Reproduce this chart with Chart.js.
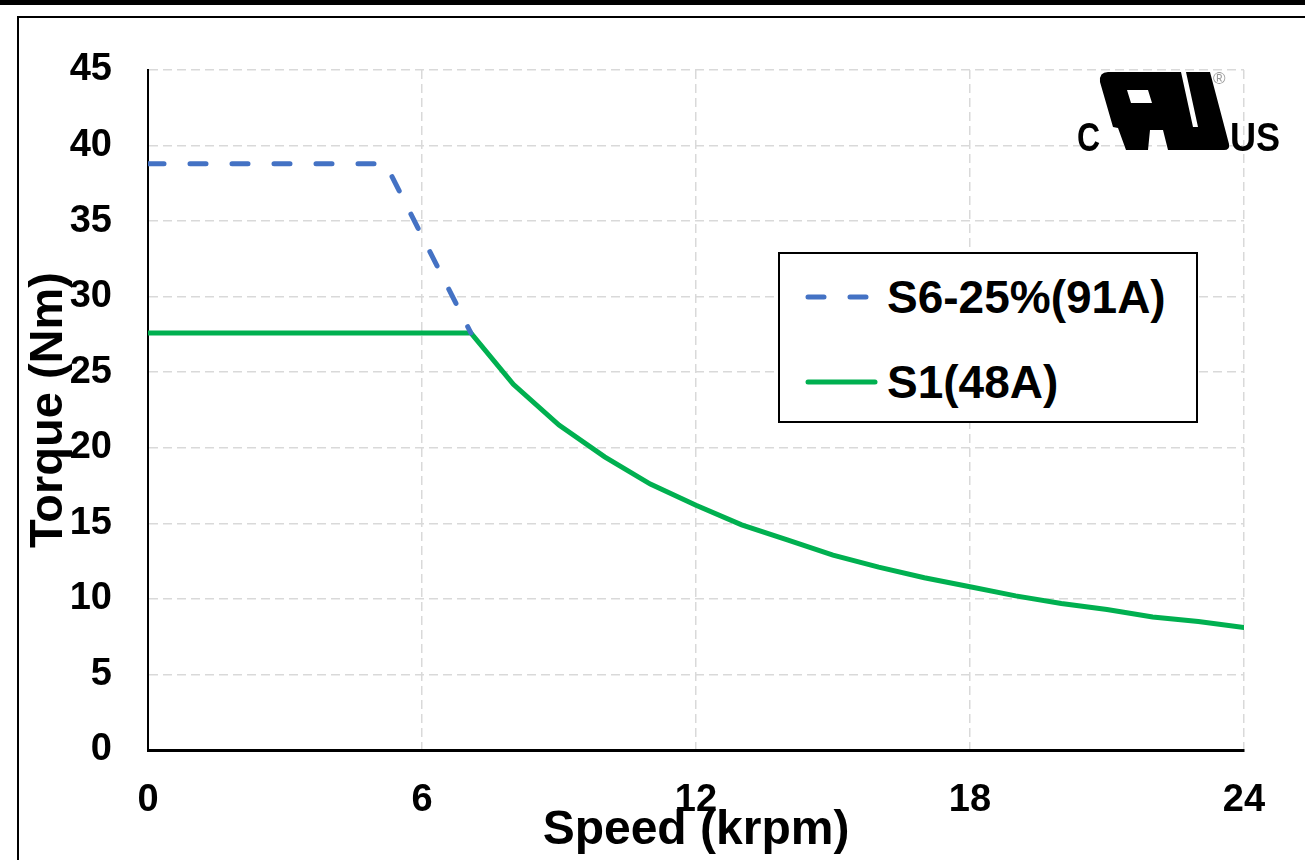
<!DOCTYPE html>
<html>
<head>
<meta charset="utf-8">
<title>Torque vs Speed</title>
<script src="https://cdn.jsdelivr.net/npm/chart.js@4.4.1/dist/chart.umd.min.js"></script>
<style>
    html, body { margin: 0; padding: 0; background: #fff; overflow: hidden; }
    #wrap { position: relative; width: 1305px; height: 860px; }
    #topBar { position: absolute; left: 0; top: 0; width: 1305px; height: 5px; background: #000; }
    #frame { position: absolute; left: 17px; top: 16px; width: 1300px; height: 860px; border: 2px solid #000; }
    #myChart { position: absolute; left: 0; top: 0; }
    #legend {
        position: absolute; left: 778px; top: 252px; width: 416px; height: 167px;
        border: 2px solid #000; background: #fff;
        font-family: Arial, "Liberation Sans", sans-serif; font-weight: bold; font-size: 46px; color: #000;
    }
    .legend-row { position: absolute; left: 0; height: 60px; display: flex; align-items: center; }
    .legend-row svg { margin-left: 25px; margin-right: 8px; }
    #ulMark { position: absolute; left: 1075px; top: 68px; width: 215px; height: 90px; }
    .ul-text {
        position: absolute; font-family: Arial, "Liberation Sans", sans-serif; font-weight: bold;
        font-size: 41px; color: #000; line-height: 1; transform-origin: left center;
    }
</style>
</head>
<body>
<div id="wrap">
    <div id="topBar"></div>
    <div id="frame"></div>
    <canvas id="myChart" width="1305" height="860"></canvas>
    <div id="legend"></div>
    <div id="ulMark">
        <span class="ul-text" style="left:2px; top:49px; transform:scaleX(0.78);">C</span>
        <svg style="position:absolute; left:23px; top:2px;" width="134" height="82" viewBox="1098 70 134 82">
            <path fill="#000" fill-rule="evenodd" d="M1100 82 Q1099 72 1108 72 L1181 72 L1193 127 L1198 127 L1186 72 L1210 72 L1229 144 Q1230 150 1224 150 L1168 150 L1163 130 L1150 130 L1148 150 L1126 150 L1118 128 L1113 127 Z M1127 90 L1148 90 L1152 103 L1131 103 Z"/>
        </svg>
        <span style="position:absolute; left:138px; top:1px; font-family:Arial, sans-serif; font-size:17px; color:#999;">®</span>
        <span class="ul-text" style="left:155px; top:49px; transform:scaleX(0.88);">US</span>
    </div>
</div>
<script>
// Dados
const speedS6 = [0, 5.2, 7.07];
const torqueS6 = [38.8, 38.8, 27.6];

const speedS1 = [0, 7.07, 8, 9, 10, 11, 12, 13, 14, 15, 16, 17, 18, 19, 20, 21, 22, 23, 24];
const torqueS1 = [27.6, 27.6, 24.2, 21.5, 19.4, 17.6, 16.2, 14.9, 13.9, 12.9, 12.1, 11.4, 10.8, 10.2, 9.7, 9.3, 8.8, 8.5, 8.1];

const seriesLabels = ['S6-25%(91A)', 'S1(48A)'];
const seriesColors = ['#4472C4', '#00B050'];

const xTicks = [0, 6, 12, 18, 24];
const yTicks = [0, 5, 10, 15, 20, 25, 30, 35, 40, 45];

const FONT = 'Arial, "Liberation Sans", sans-serif';

// Junta velocidade e torque em pontos {x, y}
function toPoints(xs, ys) {
    return xs.map((x, i) => ({ x, y: ys[i] }));
}

function getChartData() {
    return {
        datasets: [{
            label: seriesLabels[0],
            data: toPoints(speedS6, torqueS6),
            borderColor: seriesColors[0],
            borderWidth: 5,
            borderDash: [16, 26],
            borderCapStyle: 'round',
            pointRadius: 0,
            tension: 0
        }, {
            label: seriesLabels[1],
            data: toPoints(speedS1, torqueS1),
            borderColor: seriesColors[1],
            borderWidth: 5,
            borderCapStyle: 'round',
            pointRadius: 0,
            tension: 0
        }]
    };
}

function getChartOptions() {
    const gridLine = { color: '#d9d9d9', lineWidth: 1.5, drawTicks: false };
    return {
        responsive: false,
        animation: false,
        layout: { padding: { top: 70, right: 61, left: 0, bottom: 0 } },
        plugins: {
            legend: { display: false },
            tooltip: { enabled: false }
        },
        scales: {
            x: {
                type: 'linear',
                min: xTicks[0],
                max: xTicks[xTicks.length - 1],
                afterBuildTicks: (scale) => { scale.ticks = xTicks.map(v => ({ value: v })); },
                afterFit: (scale) => { scale.height = 110; },
                grid: gridLine,
                border: { color: '#000', width: 3, dash: [9, 5] },
                ticks: { color: '#000', padding: 28, maxRotation: 0, font: { family: FONT, size: 38, weight: 'bold' } },
                title: {
                    display: true, text: 'Speed (krpm)', color: '#000',
                    padding: 0, font: { family: FONT, size: 48, weight: 'bold' }
                }
            },
            y: {
                type: 'linear',
                min: yTicks[0],
                max: yTicks[yTicks.length - 1],
                afterBuildTicks: (scale) => { scale.ticks = yTicks.map(v => ({ value: v })); },
                afterFit: (scale) => { scale.width = 148; },
                grid: gridLine,
                border: { color: '#000', width: 2, dash: [9, 5] },
                ticks: { color: '#000', padding: 36, font: { family: FONT, size: 38, weight: 'bold' } },
                title: {
                    display: true, text: 'Torque (Nm)', color: '#000',
                    padding: { top: 21, bottom: 0 }, font: { family: FONT, size: 47, weight: 'bold' }
                }
            }
        }
    };
}

// Monta a legenda em HTML a partir dos datasets
function renderLegend(chart) {
    const box = document.getElementById('legend');
    const rowTops = [13, 98];
    chart.data.datasets.forEach((ds, i) => {
        const row = document.createElement('div');
        row.className = 'legend-row';
        row.style.top = rowTops[i] + 'px';
        const dash = ds.borderDash ? ' stroke-dasharray="16 26"' : '';
        row.innerHTML = '<svg width="74" height="10"><line x1="3" y1="5" x2="' + (ds.borderDash ? 66 : 70) +
            '" y2="5" stroke="' + ds.borderColor + '" stroke-width="5" stroke-linecap="round"' + dash + '/></svg>' +
            '<span>' + ds.label + '</span>';
        box.appendChild(row);
    });
}

const ctx = document.getElementById('myChart').getContext('2d');
const chart = new Chart(ctx, { type: 'line', data: getChartData(), options: getChartOptions() });
renderLegend(chart);
</script>
</body>
</html>
